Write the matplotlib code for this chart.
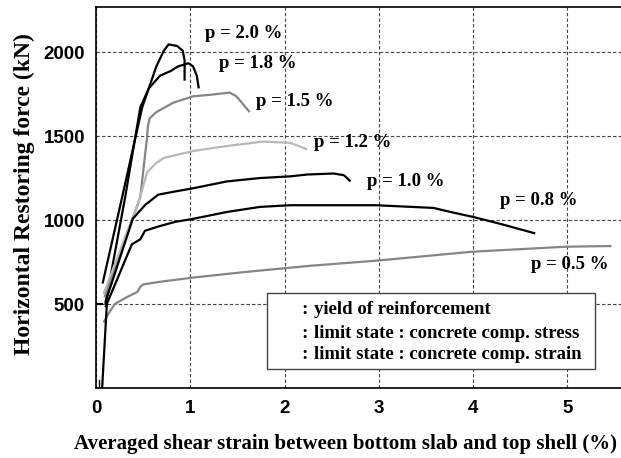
"""Horizontal restoring force vs averaged shear strain for several reinforcement ratios."""

import matplotlib.pyplot as plt
from matplotlib.patches import Rectangle

SERIF = ["Liberation Serif", "DejaVu Serif"]
SANS = ["Liberation Sans", "DejaVu Sans"]

# curves (x: shear strain %, y: force kN)
p20_x = [0.07, 0.27, 0.49, 0.64, 0.72, 0.77, 0.86, 0.92, 0.94, 0.94]
p20_y = [623, 1119, 1672, 1916, 2010, 2047, 2038, 2010, 1953, 1831]
p18_x = [0.10, 0.31, 0.47, 0.56, 0.68, 0.79, 0.87, 0.98, 1.03, 1.07, 1.09]
p18_y = [500, 1139, 1672, 1785, 1861, 1888, 1916, 1935, 1916, 1860, 1785]
p15_x = [0.09, 0.47, 0.54, 0.55, 0.57, 0.64, 0.82, 1.03, 1.21, 1.42, 1.49, 1.56, 1.63]
p15_y = [540, 1139, 1485, 1560, 1607, 1644, 1700, 1738, 1747, 1760, 1738, 1691, 1644]
p12_x = [0.08, 0.31, 0.45, 0.54, 0.56, 0.64, 0.72, 1.03, 1.39, 1.77, 2.06, 2.24]
p12_y = [560, 902, 1103, 1281, 1296, 1341, 1371, 1412, 1442, 1468, 1461, 1422]
p10_x = [0.10, 0.39, 0.52, 0.66, 0.84, 1.03, 1.39, 1.74, 2.06, 2.24, 2.52, 2.63, 2.70]
p10_y = [512, 1008, 1090, 1152, 1171, 1190, 1231, 1251, 1261, 1272, 1278, 1268, 1231]
p08_x = [0.10, 0.38, 0.47, 0.52, 0.66, 0.84, 1.03, 1.39, 1.74, 2.06, 2.97, 3.58, 3.76, 4.01, 4.29, 4.66]
p08_y = [481, 856, 886, 937, 962, 990, 1008, 1049, 1079, 1089, 1089, 1073, 1049, 1018, 978, 921]
p05_x = [0.08, 0.13, 0.20, 0.33, 0.44, 0.47, 0.50, 0.68, 1.03, 1.56, 2.27, 2.98, 3.99, 4.99, 5.47]
p05_y = [390, 441, 501, 542, 573, 603, 617, 633, 658, 690, 728, 759, 812, 842, 846]
elastic_x = [0.065, 0.115]
elastic_y = [0, 500]

SERIES = [
    (p20_x, p20_y, "black"),
    (p18_x, p18_y, "black"),
    (p15_x, p15_y, "#858585"),
    (p12_x, p12_y, "#b8b8b8"),
    (p10_x, p10_y, "black"),
    (p08_x, p08_y, "black"),
    (p05_x, p05_y, "#858585"),
]

labels = ["p = 2.0 %", "p = 1.8 %", "p = 1.5 %", "p = 1.2 %", "p = 1.0 %", "p = 0.8 %", "p = 0.5 %"]
label_x = [1.16, 1.30, 1.70, 2.31, 2.87, 4.29, 4.62]
label_y = [2112, 1935, 1710, 1463, 1231, 1116, 734]

legend_items = ["yield of reinforcement",
                "limit state : concrete comp. stress",
                "limit state : concrete comp. strain"]

xticks = [0, 1, 2, 3, 4, 5]
yticks = [500, 1000, 1500, 2000]

fig = plt.figure(figsize=(6.21, 4.58), dpi=100)
ax = fig.add_axes([0.1546, 0.1528, 0.8454, 0.8319])

for xs, ys, c in SERIES:
    ax.plot(xs, ys, color=c, lw=1.6, solid_capstyle="butt")
ax.plot(elastic_x, elastic_y, color="black", lw=1.6)
ax.plot([0.01, 0.06], [500, 500], color="black", lw=1.6)
ax.plot([0.03, 0.03], [0, 50], color="black", lw=1.0)

for t, x, y in zip(labels, label_x, label_y):
    ax.text(x, y, t, family=SERIF, weight="bold", fontsize=13.5, va="center", ha="left")

ax.set_xlim(0, 5.57)
ax.set_ylim(0, 2270)
ax.set_xticks(xticks)
ax.set_yticks(yticks)
ax.set_xticklabels([str(v) for v in xticks], family=SANS, weight="bold", fontsize=13.5)
ax.set_yticklabels([str(v) for v in yticks], family=SANS, weight="bold", fontsize=13.5)
ax.tick_params(length=0)
ax.tick_params(axis="x", pad=8.5)
ax.tick_params(axis="y", pad=8)
ax.grid(True, color="#444444", ls=(0, (3, 2)), lw=0.8)
ax.spines["right"].set_visible(False)
for s in ["left", "bottom", "top"]:
    ax.spines[s].set_linewidth(1.2)

box = Rectangle((0.326, 0.049), 0.624, 0.201, transform=ax.transAxes,
                facecolor="white", edgecolor="#444444", lw=1.0, zorder=5)
ax.add_patch(box)
for t, yy in zip(legend_items, [0.205, 0.144, 0.087]):
    ax.text(0.392, yy, ":", transform=ax.transAxes, family=SERIF, weight="bold",
            fontsize=14, va="center", ha="left", zorder=6)
    ax.text(0.415, yy, t, transform=ax.transAxes, family=SERIF, weight="bold",
            fontsize=13.5, va="center", ha="left", zorder=6)

fig.text(0.556, 0.0197, "Averaged shear strain between bottom slab and top shell (%)",
         family=SERIF, weight="bold", fontsize=15, ha="center", va="baseline")
fig.text(0.04, 0.576, "Horizontal Restoring force (kN)", family=SERIF, weight="bold",
         fontsize=17, rotation=90, ha="center", va="center")

fig.savefig("out.png", dpi=100)
